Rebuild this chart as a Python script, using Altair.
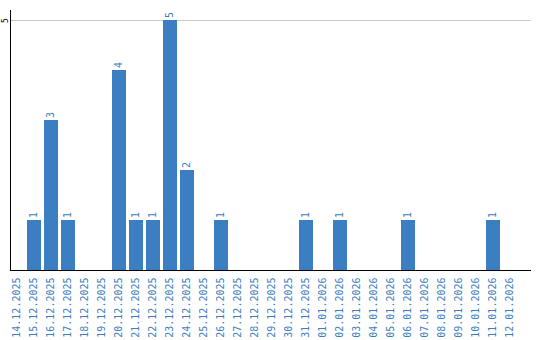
import altair as alt
import pandas as pd

dates = ["14.12.2025", "15.12.2025", "16.12.2025", "17.12.2025", "18.12.2025",
         "19.12.2025", "20.12.2025", "21.12.2025", "22.12.2025", "23.12.2025",
         "24.12.2025", "25.12.2025", "26.12.2025", "27.12.2025", "28.12.2025",
         "29.12.2025", "30.12.2025", "31.12.2025", "01.01.2026", "02.01.2026",
         "03.01.2026", "04.01.2026", "05.01.2026", "06.01.2026", "07.01.2026",
         "08.01.2026", "09.01.2026", "10.01.2026", "11.01.2026", "12.01.2026"]
counts = [0, 1, 3, 1, 0, 0, 4, 1, 1, 5, 2, 0, 1, 0, 0,
          0, 0, 1, 0, 1, 0, 0, 0, 1, 0, 0, 0, 0, 1, 0]

df = pd.DataFrame({"date": dates, "count": counts})
df["label"] = df["count"].apply(lambda v: str(v) if v > 0 else "")

BLUE = "#3b7ec2"
MONO = "DejaVu Sans Mono"

x = alt.X("date:N", sort=dates, title=None,
          scale=alt.Scale(paddingInner=0.176, paddingOuter=0.382, align=0),
          axis=alt.Axis(labelAngle=270, labelColor=BLUE, labelFont=MONO, labelFontSize=10,
                        ticks=False, labelPadding=7, domainColor="black", domainWidth=1,
                        grid=False))
y = alt.Y("count:Q", title=None,
          scale=alt.Scale(domain=[0, 5.2], nice=False),
          axis=alt.Axis(values=[5], labelAngle=270, labelFont=MONO, labelFontSize=8,
                        labelColor="black", labelAlign="center", labelBaseline="alphabetic",
                        ticks=False, labelPadding=3,
                        domainColor="black", domainWidth=1,
                        grid=True, gridColor="#c8c8c8", gridWidth=1))

bars = alt.Chart(df).mark_bar(color=BLUE).encode(x=x, y=y)
text = alt.Chart(df).mark_text(angle=270, align="left", baseline="middle", dx=2,
                               color=BLUE, font=MONO, fontSize=10).encode(
    x=alt.X("date:N", sort=dates), y="count:Q", text="label:N")

chart = (bars + text).properties(
    width=520, height=260,
    autosize=alt.AutoSizeParams(type="none"),
    padding={"left": 10, "top": 10, "right": 10, "bottom": 70},
).configure_view(stroke=None).configure_axis(domainCap="square")

chart.save("out.html", embed_options={"renderer": "svg", "actions": False})
